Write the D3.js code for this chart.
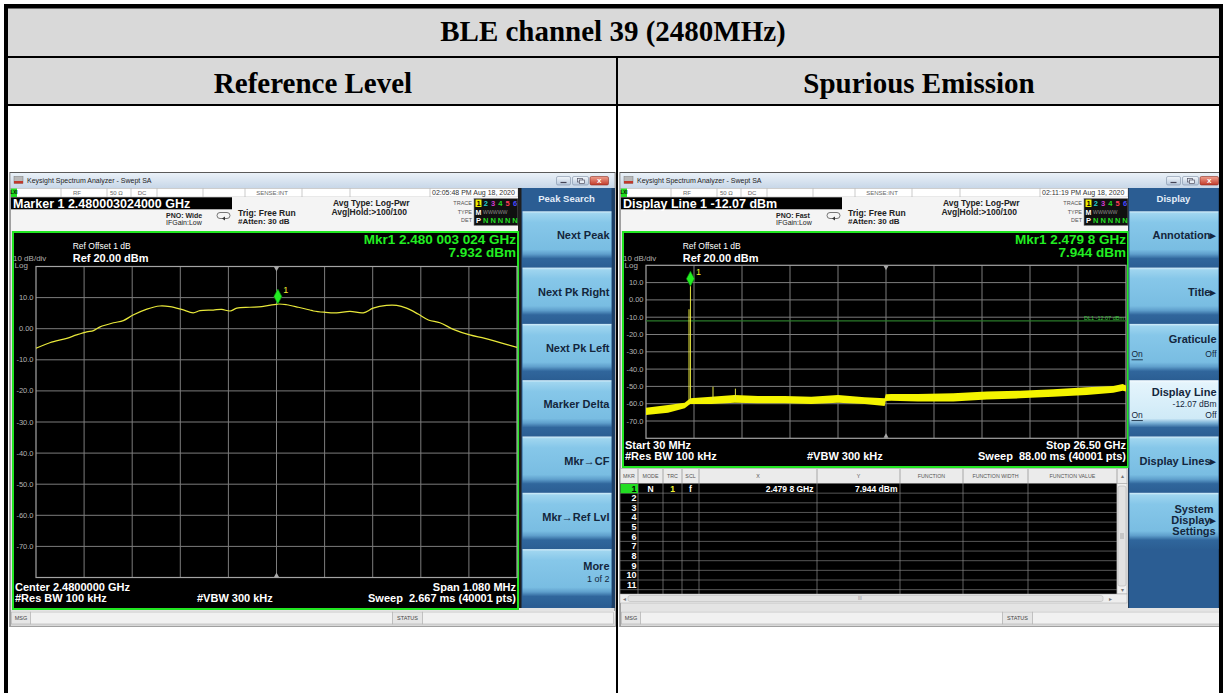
<!DOCTYPE html>
<html><head><meta charset="utf-8">
<script src="https://cdn.jsdelivr.net/npm/d3@7"></script>
<style>html,body{margin:0;padding:0;background:#fff;}svg{display:block;}</style>
</head><body>
<svg id="c" width="1223" height="693"></svg>
<script>
// ---------------- DATA ----------------
const pageTitle = "BLE channel 39 (2480MHz)";
const columnHeaders = ["Reference Level", "Spurious Emission"];
const yTickValues = [10, 0, -10, -20, -30, -40, -50, -60, -70];
const yTickLabels = ["10.0","0.00","-10.0","-20.0","-30.0","-40.0","-50.0","-60.0","-70.0"];

// Reference level trace: offset from 2.48 GHz (MHz) / level (dBm)
const refOffsetMHz = [-0.540,-0.509,-0.471,-0.449,-0.426,-0.411,-0.396,-0.366,-0.344,-0.322,-0.291,-0.262,-0.239,-0.213,-0.187,-0.172,-0.142,-0.123,-0.104,-0.089,-0.060,-0.033,0.003,0.023,0.049,0.075,0.083,0.107,0.135,0.165,0.195,0.217,0.247,0.270,0.292,0.318,0.341,0.367,0.397,0.434,0.468,0.502,0.540];
const refLevelDbm = [-6.3,-4.5,-3.1,-2.0,-1.0,-0.6,0.6,1.9,2.6,4.4,6.3,7.3,7.1,6.2,5.1,5.8,6.0,6.2,5.7,6.6,6.9,7.1,7.93,7.7,6.9,6.0,5.7,5.3,5.1,5.6,5.1,6.6,7.5,7.5,6.6,4.7,2.8,1.9,-0.2,-2.0,-3.1,-4.5,-6.0];

// Spurious emission noise floor envelope (MHz / dBm)
const spurNoiseFreqMHz = [30,1243,2164,2470,3631,4921,6206,7679,9145,10618,12090,13193,13250,13557,15030,16976,18818,20655,22491,24333,25800,26320,26500];
const spurNoiseHighDbm = [-62.3,-60.8,-59.4,-56.9,-56.0,-55.0,-55.5,-55.5,-56.0,-55.0,-56.3,-56.9,-54.6,-54.4,-54.4,-54.0,-53.0,-52.5,-51.7,-50.5,-49.8,-48.6,-49.5];
const spurNoiseLowDbm  = [-66.5,-65.2,-62.7,-60.2,-60.2,-59.4,-59.8,-59.8,-60.2,-59.4,-60.2,-61.3,-58.5,-58.3,-58.8,-58.8,-57.5,-56.9,-56.0,-55.0,-53.6,-52.5,-53.0];
// Discrete lines in the spurious sweep
const spurLineFreqMHz = [2402, 2479.8, 3080, 3725, 4960];
const spurLineTopDbm  = [-5.4, 7.944, -57.0, -50.2, -51.3];
const displayLineDbm = -12.07;

const leftMenuLabels  = ["Next Peak","Next Pk Right","Next Pk Left","Marker Delta","Mkr\u2192CF","Mkr\u2192Ref Lvl","More"];
const rightMenuLabels = ["Annotation\u25B8","Title\u25B8","Graticule","Display Line","Display Lines\u25B8","System Display Settings",""];

const tableHeaders = ["MKR","MODE","TRC","SCL","X","Y","FUNCTION","FUNCTION WIDTH","FUNCTION VALUE"];
const tableRow1 = ["N","1","f","2.479 8 GHz","7.944 dBm"];

// ---------------- DRAW ----------------
const svg = d3.select("#c");
const SANS = "'Liberation Sans', Arial, Helvetica, sans-serif";
const SERIF = "'Liberation Serif', 'Times New Roman', serif";
const defs = svg.append("defs");
function grad(id, stops) {
  const lg = defs.append("linearGradient").attr("id", id).attr("x1",0).attr("y1",0).attr("x2",0).attr("y2",1);
  stops.forEach(s => lg.append("stop").attr("offset", s[0]).attr("stop-color", s[1]));
}
grad("gTitle", [[0,"#eaf1f8"],[1,"#c8d7e8"]]);
grad("gBtn", [[0,"#d8effa"],[0.04,"#9fd5ef"],[0.2,"#86c7e9"],[0.68,"#79bde2"],[0.76,"#5f9fcc"],[0.84,"#30669c"],[1,"#2b5e93"]]);
grad("gBtnHi", [[0,"#f6fcff"],[0.05,"#e4f4fc"],[0.68,"#cfeaf7"],[0.76,"#79b0d6"],[0.84,"#30669c"],[1,"#2b5e93"]]);
grad("gWin", [[0,"#f2f6fb"],[1,"#b8c8dc"]]);
grad("gClose", [[0,"#eea08f"],[1,"#c23a2a"]]);
grad("gMsg", [[0,"#f2f2f2"],[1,"#d8d8d8"]]);

function txt(g, x, y, s, o = {}) {
  const t = g.append("text").attr("x", x).attr("y", y)
    .attr("font-family", o.ff || SANS).attr("font-size", o.fs || 8)
    .attr("font-weight", o.fw || "normal").attr("fill", o.c || "#000")
    .attr("text-anchor", o.a || "start").attr("dominant-baseline", o.db || "central")
    .style("white-space", "pre").text(s);
  if (o.u) t.attr("text-decoration", "underline");
  return t;
}
function rect(g, x, y, w, h, fill, stroke, sw) {
  const r = g.append("rect").attr("x", x).attr("y", y).attr("width", w).attr("height", h).attr("fill", fill || "none");
  if (stroke) r.attr("stroke", stroke).attr("stroke-width", sw || 1);
  return r;
}
function line(g, x1, y1, x2, y2, c, w) {
  return g.append("line").attr("x1", x1).attr("y1", y1).attr("x2", x2).attr("y2", y2).attr("stroke", c).attr("stroke-width", w || 1);
}

// table header backgrounds
rect(svg, 6, 6, 1214, 99, "#d9d9d9");
txt(svg, 613, 41, pageTitle, {ff: SERIF, fs: 29, fw: "bold", a: "middle", db: "alphabetic"});
txt(svg, 313, 93, columnHeaders[0], {ff: SERIF, fs: 29, fw: "bold", a: "middle", db: "alphabetic"});
txt(svg, 919, 93, columnHeaders[1], {ff: SERIF, fs: 29, fw: "bold", a: "middle", db: "alphabetic"});

function drawScreen(off, cfg) {
  const g = svg.append("g").attr("transform", `translate(${off},0)`);
  // frame
  rect(g, 10, 172.5, 605, 454, "#e4e4e4", "#5a5a5a", 1);
  // title bar
  rect(g, 10.5, 173, 604, 15, "url(#gTitle)");
  rect(g, 14, 176.5, 9, 7, "#b9b9b9", "#777", 0.5);
  rect(g, 14, 181, 9, 2.5, "#c0392b");
  txt(g, 27, 180.8, "Keysight Spectrum Analyzer - Swept SA", {fs: 7, c: "#1d1d1d"});
  rect(g, 556.5, 176.5, 14, 8.5, "url(#gWin)", "#7d8ea5", 0.6).attr("rx", 1.5);
  line(g, 560.5, 182.5, 566.5, 182.5, "#445", 1.2);
  rect(g, 572.5, 176.5, 16, 8.5, "url(#gWin)", "#7d8ea5", 0.6).attr("rx", 1.5);
  rect(g, 577.5, 178.5, 5, 3.5, "none", "#556", 0.7);
  rect(g, 579.5, 180, 5, 3.5, "#e6ecf4", "#556", 0.7);
  rect(g, 590, 176.5, 18.5, 8.5, "url(#gClose)", "#8a2d22", 0.6).attr("rx", 1.5);
  txt(g, 599.2, 180.9, "x", {fs: 8, fw: "bold", c: "#fff", a: "middle"});

  // status row
  rect(g, 11, 188.5, 507, 8.5, "#ffffff", "#b5b5b5", 0.6);
  rect(g, 11, 188.5, 6, 8.5, "#22dd22");
  txt(g, 14, 192.8, "LXI", {fs: 4.5, fw: "bold", c: "#000", a: "middle"});
  [61,107,131,157,203,245,302,350,430].forEach(x => line(g, x, 188.5, x, 197, "#b5b5b5", 0.7));
  txt(g, 77, 192.8, "RF", {fs: 6, c: "#666", a: "middle"});
  txt(g, 110, 192.8, "50 \u03A9", {fs: 6, c: "#666"});
  txt(g, 142, 192.8, "DC", {fs: 6, c: "#666", a: "middle"});
  txt(g, 272, 192.8, "SENSE:INT", {fs: 6, c: "#666", a: "middle"});
  txt(g, 432, 192.8, cfg.time, {fs: 7, c: "#333"});

  // info area
  rect(g, 11, 197, 508, 34, "#f4f4f4");
  rect(g, 11, 197.3, 221, 12, "#000");
  txt(g, 13, 203.5, cfg.activeText, {fs: 12.5, fw: "bold", c: "#fff"});
  txt(g, 166, 215.8, cfg.pno, {fs: 7, fw: "bold", c: "#222"});
  txt(g, 166, 222.8, "IFGain:Low", {fs: 7, c: "#222"});
  rect(g, 217, 212.5, 13, 6, "none", "#555", 0.8).attr("rx", 3);
  g.append("path").attr("d", "M222,218.5 l3,-2 l0,4 z").attr("fill", "#333");
  txt(g, 238, 213.3, "Trig: Free Run", {fs: 8.5, fw: "bold", c: "#222"});
  txt(g, 238, 221.8, "#Atten: 30 dB", {fs: 8, fw: "bold", c: "#222"});
  txt(g, 333, 202.7, "Avg Type: Log-Pwr", {fs: 8.5, fw: "bold", c: "#222"});
  txt(g, 331.5, 212.3, "Avg|Hold:>100/100", {fs: 8.5, fw: "bold", c: "#222"});
  txt(g, 472, 202.7, "TRACE", {fs: 5.5, c: "#555", a: "end"});
  txt(g, 472, 212.3, "TYPE", {fs: 5.5, c: "#555", a: "end"});
  txt(g, 472, 220.3, "DET", {fs: 5.5, c: "#555", a: "end"});
  rect(g, 474, 198.5, 44, 27, "#101010", "#8a8a8a", 0.6);
  rect(g, 475.5, 199.5, 6, 7.5, "#f0f000");
  const tc = ["#000","#22d3d3","#d23bd2","#22dd22","#ff3c5a","#4a4aff"];
  tc.forEach((c, i) => txt(g, 478.5 + i * 7.3, 203.3, String(i + 1), {fs: 7.5, fw: "bold", c: c, a: "middle"}));
  txt(g, 478.5, 212.3, "M", {fs: 7, fw: "bold", c: "#fff", a: "middle"});
  txt(g, 483, 212.3, "WWWWW", {fs: 5.2, c: "#8a8a8a"});
  txt(g, 478.5, 220.3, "P", {fs: 7.5, fw: "bold", c: "#fff", a: "middle"});
  for (let i = 0; i < 5; i++) txt(g, 485.8 + i * 7.3, 220.3, "N", {fs: 7.5, fw: "bold", c: "#22dd22", a: "middle"});

  // dark separator
  rect(g, 518, 188, 4, cfg.menuBottom - 188, "#1e1e1e");

  // green plot box
  const gb = cfg.greenBottom;
  rect(g, 13, 232, 505, gb - 232, "#000", "#22e622", 2);

  // scales
  const x = d3.scaleLinear().domain(cfg.xDomain).range([36, cfg.gRight]);
  const y = d3.scaleLinear().domain([20, -80]).range([cfg.gTop, cfg.gBottom]);
  // grid
  const grid = g.append("g");
  const xDiv = d3.range(11).map(i => cfg.xDomain[0] + i * (cfg.xDomain[1] - cfg.xDomain[0]) / 10);
  grid.selectAll("line.v").data(xDiv.slice(1, 10)).join("line")
    .attr("x1", d => x(d)).attr("x2", d => x(d)).attr("y1", y(20)).attr("y2", y(-80))
    .attr("stroke", "#7c7c7c").attr("stroke-width", 1);
  grid.selectAll("line.h").data(yTickValues).join("line")
    .attr("x1", x(cfg.xDomain[0])).attr("x2", x(cfg.xDomain[1])).attr("y1", d => y(d)).attr("y2", d => y(d))
    .attr("stroke", "#7c7c7c").attr("stroke-width", 1);
  rect(grid, x(cfg.xDomain[0]), y(20), x(cfg.xDomain[1]) - x(cfg.xDomain[0]), y(-80) - y(20), "none", "#a4a4a4", 1.2);
  // y labels
  yTickValues.forEach((v, i) => txt(g, 33.5, y(v), yTickLabels[i], {fs: 7.5, c: "#b4b4b4", a: "end"}));
  // center triangles
  const cx = (x(cfg.xDomain[0]) + x(cfg.xDomain[1])) / 2;
  g.append("path").attr("d", `M${cx - 2.5},${y(20) + 0.5} L${cx + 2.5},${y(20) + 0.5} L${cx},${y(20) + 5} Z`).attr("fill", "#a8a8a8");
  g.append("path").attr("d", `M${cx - 2.5},${y(-80) - 0.5} L${cx + 2.5},${y(-80) - 0.5} L${cx},${y(-80) - 5} Z`).attr("fill", "#a8a8a8");

  // top plot texts
  txt(g, 72.7, 246, "Ref Offset 1 dB", {fs: 8.5, c: "#fff"});
  txt(g, 72.7, 257.7, "Ref 20.00 dBm", {fs: 11, fw: "bold", c: "#fff"});
  txt(g, 13, 258.7, "10 dB/div", {fs: 8, c: "#b0b0b0"});
  txt(g, 14.5, 265.6, "Log", {fs: 8, c: "#b0b0b0"});
  txt(g, 516, 239.5, cfg.mkrF, {fs: 13.5, fw: "bold", c: "#22ee22", a: "end"});
  txt(g, 516, 252.8, cfg.mkrL, {fs: 13.5, fw: "bold", c: "#22ee22", a: "end"});

  cfg.drawTrace(g, x, y);

  // marker diamond
  const mx = x(cfg.markerX), my = y(cfg.markerY);
  g.append("path").attr("d", `M${mx},${my} L${mx + 4},${my - 7.5} L${mx},${my - 15} L${mx - 4},${my - 7.5} Z`)
    .attr("fill", "#22ee22").attr("stroke", "#0c8a0c").attr("stroke-width", 0.6);
  txt(g, mx + 5.5, my - 14, "1", {fs: 9, c: "#f0f030"});

  // bottom plot texts
  const b1 = gb - 22.3, b2 = gb - 11;
  txt(g, 15, b1, cfg.bl1, {fs: 11, fw: "bold", c: "#fff"});
  txt(g, 15, b2, "#Res BW 100 kHz", {fs: 11, fw: "bold", c: "#fff"});
  txt(g, 197, b2, "#VBW 300 kHz", {fs: 11, fw: "bold", c: "#fff"});
  txt(g, 516, b1, cfg.br1, {fs: 11, fw: "bold", c: "#fff", a: "end"});
  txt(g, 516, b2, cfg.br2, {fs: 11, fw: "bold", c: "#fff", a: "end"});

  if (cfg.table) cfg.table(g);

  // menu
  const m = g.append("g").attr("transform", `translate(${cfg.menuShift},0)`);
  rect(m, 521.5, 188, 93, cfg.menuBottom - 188, "#2b5d93");
  rect(m, 611.5, 188, 3.5, cfg.menuBottom - 188, "#1d3f66");
  txt(m, 566.5, 198.3, cfg.menuTitle, {fs: 9.5, fw: "bold", c: "#e4eef9", a: "middle"});
  const TR = 609.5;
  cfg.menu.forEach((lab, i) => {
    if (!lab) return;
    const top = 211.3 + 56.3 * i;
    const hi = (cfg.highlight === i);
    rect(m, 522.5, top, 89, 56.3, hi ? "url(#gBtnHi)" : "url(#gBtn)");
    const c = top + 24;
    const st = {fs: 11, fw: "bold", c: "#13263c", a: "end"};
    const sm = {fs: 8.5, c: "#13263c"};
    if (lab === "More") {
      txt(m, TR, c - 7, lab, st);
      txt(m, TR, c + 6, "1 of 2", Object.assign({}, sm, {a: "end", fs: 9}));
    } else if (lab === "Graticule") {
      txt(m, TR, c - 8.5, lab, st);
      txt(m, 524.5, c + 6.5, "On", Object.assign({}, sm, {u: true}));
      txt(m, TR, c + 6.5, "Off", Object.assign({}, sm, {a: "end"}));
    } else if (lab === "Display Line") {
      txt(m, TR, c - 12, lab, st);
      txt(m, TR, c, "-12.07 dBm", Object.assign({}, sm, {a: "end"}));
      txt(m, 524.5, c + 11, "On", Object.assign({}, sm, {u: true}));
      txt(m, TR, c + 11, "Off", Object.assign({}, sm, {a: "end"}));
    } else if (lab === "System Display Settings") {
      txt(m, 587, c - 7.5, "System", Object.assign({}, st, {a: "middle"}));
      txt(m, TR, c + 3.5, "Display\u25B8", st);
      txt(m, 587, c + 14.5, "Settings", Object.assign({}, st, {a: "middle"}));
    } else {
      txt(m, TR, c, lab, st);
    }
  });

  // MSG bar
  rect(g, 11, 611, 604, 15, "url(#gMsg)");
  rect(g, 11.5, 612, 19, 12, "#e6e6e6", "#b0b0b0", 0.6);
  txt(g, 21, 618, "MSG", {fs: 5.5, c: "#444", a: "middle"});
  rect(g, 30.5, 612, 362, 12, "#f1f1f1", "#b0b0b0", 0.6);
  rect(g, 392.5, 612, 30, 12, "#e6e6e6", "#b0b0b0", 0.6);
  txt(g, 407.5, 618, "STATUS", {fs: 5.5, c: "#444", a: "middle"});
  rect(g, 422.5, 612, 191, 12, "#f1f1f1", "#b0b0b0", 0.6);
  line(g, 10, 626.5, 615, 626.5, "#a0a0a0", 1);
}

// Left: reference level
drawScreen(0, {
  time: "02:05:48 PM Aug 18, 2020",
  activeText: "Marker 1 2.480003024000 GHz",
  pno: "PNO: Wide",
  greenBottom: 609, gTop: 266.5, gBottom: 577.5, gRight: 517,
  xDomain: [-0.54, 0.54],
  mkrF: "Mkr1 2.480 003 024 GHz", mkrL: "7.932 dBm",
  markerX: 0.003024, markerY: 7.932,
  bl1: "Center 2.4800000 GHz", br1: "Span 1.080 MHz", br2: "Sweep  2.667 ms (40001 pts)",
  menuTitle: "Peak Search", menu: leftMenuLabels, menuShift: 0, menuBottom: 608,
  drawTrace: (g, x, y) => {
    const pts = refOffsetMHz.map((f, i) => [f, refLevelDbm[i]]);
    g.append("path").datum(pts)
      .attr("d", d3.line().x(d => x(d[0])).y(d => y(d[1])).curve(d3.curveCatmullRom))
      .attr("fill", "none").attr("stroke", "#e8e83a").attr("stroke-width", 1.2);
  }
});

// Right: spurious emission
drawScreen(610, {
  time: "02:11:19 PM Aug 18, 2020",
  activeText: "Display Line 1 -12.07 dBm",
  pno: "PNO: Fast",
  greenBottom: 467, gTop: 265.3, gBottom: 438.3, gRight: 516,
  xDomain: [30, 26500],
  mkrF: "Mkr1 2.479 8 GHz", mkrL: "7.944 dBm",
  markerX: 2479.8, markerY: 7.944,
  bl1: "Start 30 MHz", br1: "Stop 26.50 GHz", br2: "Sweep  88.00 ms (40001 pts)",
  menuTitle: "Display", menu: rightMenuLabels, menuShift: -3, menuBottom: 608, highlight: 3,
  drawTrace: (g, x, y) => {
    // display line
    line(g, x(30), y(displayLineDbm), x(26500), y(displayLineDbm), "#2a7a2a", 1.2);
    txt(g, x(26500) - 2, y(displayLineDbm) - 2.5, "DL1 -12.07 dBm", {fs: 5.5, c: "#3cc83c", a: "end"});
    const band = spurNoiseFreqMHz.map((f, i) => ({f: f, hi: spurNoiseHighDbm[i], lo: spurNoiseLowDbm[i]}));
    g.append("path").datum(band)
      .attr("d", d3.area().x(d => x(d.f)).y0(d => y(d.lo)).y1(d => y(d.hi)))
      .attr("fill", "#f4f400");
    g.selectAll("line.spur").data(spurLineFreqMHz.map((f, i) => [f, spurLineTopDbm[i]])).join("line")
      .attr("x1", d => x(d[0])).attr("x2", d => x(d[0]))
      .attr("y1", y(-58)).attr("y2", d => y(d[1]))
      .attr("stroke", "#e6e640").attr("stroke-width", 1);
  },
  table: (g) => {
    const cols = [10, 28, 53, 72, 89, 207, 290, 353, 418, 507, 517];
    rect(g, 10, 468.5, 507, 15, "#ebebeb", "#a0a0a0", 0.6);
    tableHeaders.forEach((h, i) => txt(g, (cols[i] + cols[i + 1]) / 2, 476, h, {fs: 5.3, c: "#555", a: "middle"}));
    txt(g, 512, 476, "\u25B4", {fs: 6, c: "#777", a: "middle"});
    rect(g, 10, 483.5, 497, 110.5, "#000");
    for (let i = 0; i <= 11; i++) line(g, 10, 483.5 + i * 9.65, 507, 483.5 + i * 9.65, "#6c6c6c", 0.8);
    cols.slice(0, 10).forEach(c => line(g, c, 469, c, 594, "#8a8a8a", 0.7));
    rect(g, 10.5, 484, 17.5, 9.2, "#22dd22");
    for (let i = 0; i < 11; i++) txt(g, 26.5, 488.5 + i * 9.65, String(i + 1), {fs: 9, fw: "bold", c: i === 0 ? "#000" : "#fff", a: "end"});
    txt(g, 40.5, 488.5, tableRow1[0], {fs: 8.5, fw: "bold", c: "#fff", a: "middle"});
    txt(g, 62.5, 488.5, tableRow1[1], {fs: 8.5, fw: "bold", c: "#f0f030", a: "middle"});
    txt(g, 80.5, 488.5, tableRow1[2], {fs: 8.5, fw: "bold", c: "#fff", a: "middle"});
    txt(g, 203.5, 488.5, tableRow1[3], {fs: 8.5, fw: "bold", c: "#fff", a: "end"});
    txt(g, 287.5, 488.5, tableRow1[4], {fs: 8.5, fw: "bold", c: "#fff", a: "end"});
    // vertical scrollbar
    rect(g, 507, 483.5, 10, 110.5, "#f0f0f0", "#a0a0a0", 0.5);
    rect(g, 508, 486, 8, 100, "#e2e2e2", "#a8a8a8", 0.5).attr("rx", 2);
    [534, 536, 538].forEach(yy => line(g, 510, yy, 514, yy, "#888", 0.6));
    txt(g, 512, 590, "\u25BE", {fs: 6, c: "#777", a: "middle"});
    // horizontal scrollbar
    rect(g, 10, 594, 507, 9, "#eeeeee", "#a8a8a8", 0.5);
    rect(g, 18, 595.5, 475, 6, "#e2e2e2", "#b0b0b0", 0.5).attr("rx", 2);
    txt(g, 14, 598.5, "\u25C2", {fs: 6, c: "#777", a: "middle"});
    txt(g, 250, 598.5, "III", {fs: 4.5, c: "#888", a: "middle"});
    txt(g, 500, 598.5, "\u25B8", {fs: 6, c: "#777", a: "middle"});
  }
});

// table borders on top
rect(svg, 4, 4, 1219, 4.5, "#000");
rect(svg, 4, 4, 4, 689, "#000");
rect(svg, 1219, 4, 4, 689, "#000");
rect(svg, 6, 56, 1214, 2, "#000");
rect(svg, 6, 104, 1214, 2, "#000");
rect(svg, 616, 57, 2, 636, "#000");
</script>
</body></html>
